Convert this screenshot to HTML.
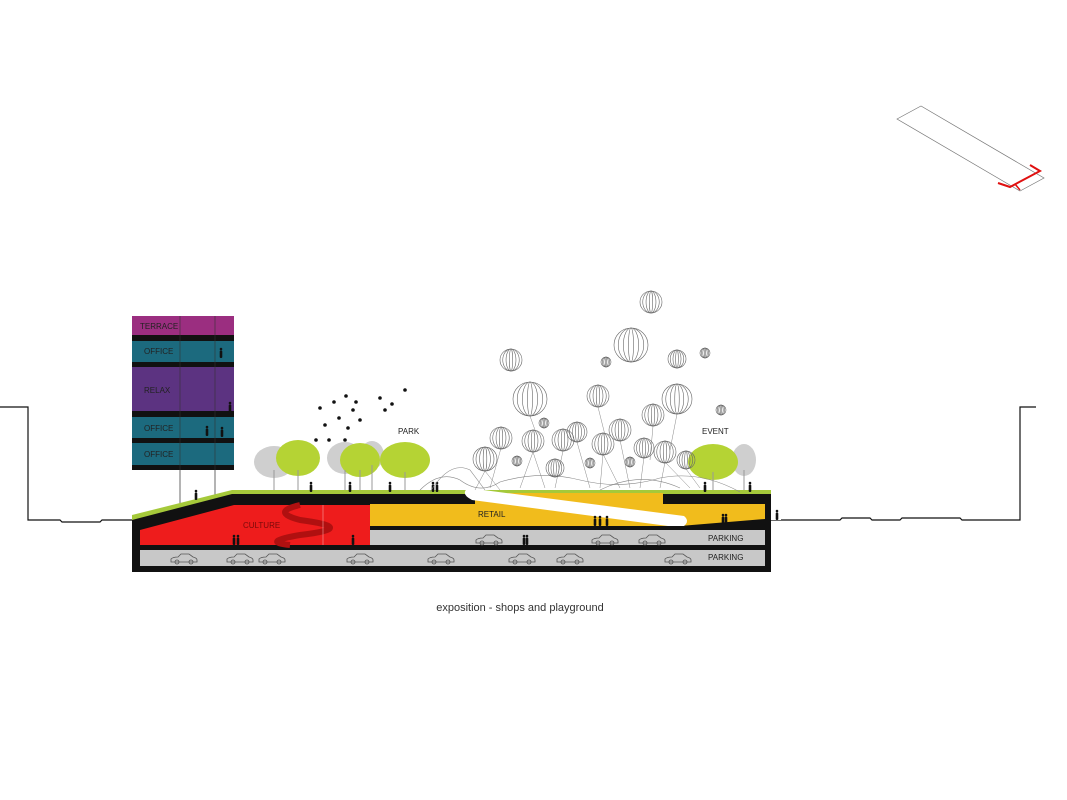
<!DOCTYPE html>
<html><head><meta charset="utf-8"><style>
html,body{margin:0;padding:0;background:#fff}
svg{display:block}
text{font-family:"Liberation Sans",sans-serif}
</style></head><body>
<svg width="1067" height="800" viewBox="0 0 1067 800" xmlns="http://www.w3.org/2000/svg">
<defs>
<g id="b" fill="none" stroke="#666" stroke-width="0.6">
<circle r="1" vector-effect="non-scaling-stroke"/><ellipse rx="0.75" ry="1" vector-effect="non-scaling-stroke"/><ellipse rx="0.45" ry="1" vector-effect="non-scaling-stroke"/><ellipse rx="0.15" ry="1" vector-effect="non-scaling-stroke"/>
</g>
<g id="car" fill="none" stroke="#555" stroke-width="0.8">
<path d="M-13,3 L-13,0 Q-11,-2 -6,-2 L-3,-5 L5,-5 L9,-2 Q13,-1 13,1 L13,3 Z"/>
<circle cx="-7" cy="3" r="2"/><circle cx="7" cy="3" r="2"/>
</g>
<g id="p" fill="#111"><circle cx="0" cy="-9" r="1.3"/><rect x="-1.3" y="-7.5" width="2.6" height="7.5" rx="1"/></g>
</defs>

<polygon points="897,119 921,106 1044,178 1020,191" fill="none" stroke="#777" stroke-width="0.7"/>
<polyline points="1030,165 1040,171 1010,187 998,183" fill="none" stroke="#e01010" stroke-width="2"/>
<line x1="1015" y1="184" x2="1020" y2="190" stroke="#e01010" stroke-width="1.5"/>

<polyline points="0,407 28,407 28,520 60,520 62,522 100,522 102,520 132,520" fill="none" stroke="#111" stroke-width="1.2"/>
<polyline points="771,520 840,520 842,518 870,518 872,520 900,520 902,518 960,518 962,520 1020,520 1020,407 1036,407" fill="none" stroke="#111" stroke-width="1.2"/>

<line x1="180" y1="470" x2="180" y2="545" stroke="#444" stroke-width="0.8"/>
<line x1="215" y1="470" x2="215" y2="545" stroke="#444" stroke-width="0.8"/>

<rect x="132" y="316" width="102" height="19" fill="#9b2e80"/>
<rect x="132" y="335" width="102" height="6" fill="#111"/>
<rect x="132" y="341" width="102" height="21" fill="#1c6a7e"/>
<rect x="132" y="362" width="102" height="5" fill="#111"/>
<rect x="132" y="367" width="102" height="44" fill="#5c3381"/>
<rect x="132" y="411" width="102" height="6" fill="#111"/>
<rect x="132" y="417" width="102" height="21" fill="#1c6a7e"/>
<rect x="132" y="438" width="102" height="5" fill="#111"/>
<rect x="132" y="443" width="102" height="22" fill="#1c6a7e"/>
<rect x="132" y="465" width="102" height="5" fill="#111"/>
<line x1="180" y1="316" x2="180" y2="470" stroke="#333" stroke-width="0.6"/>
<line x1="215" y1="316" x2="215" y2="470" stroke="#333" stroke-width="0.6"/>
<g font-size="8" fill="#222">
<text x="140" y="329">TERRACE</text>
<text x="144" y="354">OFFICE</text>
<text x="144" y="393">RELAX</text>
<text x="144" y="431">OFFICE</text>
<text x="144" y="457">OFFICE</text>
</g>
<use href="#p" x="221" y="358"/><use href="#p" x="230" y="412"/><use href="#p" x="207" y="436"/><use href="#p" x="222" y="437"/>

<polygon points="132,518 232,492 771,492 771,572 132,572" fill="#111"/>
<polygon points="132,515 232,490 771,490 771,494 232,494 132,520" fill="#a5c93a"/>
<polygon points="140,530 234,505 370,505 370,545 140,545" fill="#ee1c1c"/>
<path d="M300,505 Q270,512 300,520 Q360,528 300,535 Q260,542 290,545" fill="none" stroke="#b01010" stroke-width="6"/>
<line x1="323" y1="505" x2="323" y2="545" stroke="#f5a0a0" stroke-width="0.6"/>
<polygon points="370,504 765,504 765,519 680,526 370,526" fill="#f1bc1c"/>
<rect x="370" y="530" width="395" height="15" fill="#c8c8c8"/>
<rect x="140" y="550" width="625" height="16" fill="#c8c8c8"/>
<rect x="771" y="492" width="10" height="28" fill="#fff"/>
<rect x="475" y="490" width="188" height="3" fill="#a5c93a"/>
<rect x="475" y="493" width="188" height="11" fill="#f1bc1c"/>
<path d="M468,488 L684,516 Q690,521 684,526 L668,526 L472,500 Q460,494 468,488 Z" fill="#fff"/>
<g font-size="8" fill="#222">
<text x="243" y="528" fill="#7a0a0a">CULTURE</text>
<text x="478" y="517">RETAIL</text>
<text x="708" y="541">PARKING</text>
<text x="708" y="560">PARKING</text>
<text x="398" y="434">PARK</text>
<text x="702" y="434">EVENT</text>
</g>
<g>
<use href="#car" x="184" y="559"/><use href="#car" x="240" y="559"/><use href="#car" x="272" y="559"/><use href="#car" x="360" y="559"/><use href="#car" x="441" y="559"/><use href="#car" x="522" y="559"/><use href="#car" x="570" y="559"/><use href="#car" x="678" y="559"/>
<use href="#car" x="489" y="540"/><use href="#car" x="605" y="540"/><use href="#car" x="652" y="540"/>
</g>
<use href="#p" x="234" y="545"/><use href="#p" x="238" y="545"/><use href="#p" x="353" y="545"/><use href="#p" x="524" y="545"/><use href="#p" x="527" y="545"/>
<use href="#p" x="595" y="526"/><use href="#p" x="600" y="526"/><use href="#p" x="607" y="526"/><use href="#p" x="723" y="524"/><use href="#p" x="726" y="524"/><use href="#p" x="777" y="520"/>
<use href="#p" x="196" y="500"/><use href="#p" x="311" y="492"/><use href="#p" x="350" y="492"/><use href="#p" x="390" y="492"/><use href="#p" x="433" y="492"/><use href="#p" x="437" y="492"/><use href="#p" x="705" y="492"/><use href="#p" x="750" y="492"/>

<g fill="#cfcfcf">
<ellipse cx="274" cy="462" rx="20" ry="16"/><ellipse cx="345" cy="458" rx="18" ry="16"/><ellipse cx="372" cy="455" rx="12" ry="14"/><ellipse cx="744" cy="460" rx="12" ry="16"/>
</g>
<g fill="#b5d334">
<ellipse cx="298" cy="458" rx="22" ry="18"/><ellipse cx="360" cy="460" rx="20" ry="17"/><ellipse cx="405" cy="460" rx="25" ry="18"/><ellipse cx="713" cy="462" rx="25" ry="18"/>
</g>
<g stroke="#999" stroke-width="1">
<line x1="274" y1="470" x2="274" y2="490"/><line x1="298" y1="470" x2="298" y2="490"/><line x1="345" y1="470" x2="345" y2="490"/><line x1="372" y1="465" x2="372" y2="490"/><line x1="360" y1="470" x2="360" y2="490"/><line x1="405" y1="472" x2="405" y2="490"/><line x1="713" y1="472" x2="713" y2="490"/><line x1="744" y1="470" x2="744" y2="490"/>
</g>
<g fill="#111">
<circle cx="320" cy="408" r="1.8"/><circle cx="334" cy="402" r="1.8"/><circle cx="346" cy="396" r="1.8"/><circle cx="339" cy="418" r="1.8"/><circle cx="353" cy="410" r="1.8"/><circle cx="325" cy="425" r="1.8"/><circle cx="348" cy="428" r="1.8"/><circle cx="360" cy="420" r="1.8"/><circle cx="329" cy="440" r="1.8"/><circle cx="345" cy="440" r="1.8"/><circle cx="380" cy="398" r="1.8"/><circle cx="392" cy="404" r="1.8"/><circle cx="405" cy="390" r="1.8"/><circle cx="385" cy="410" r="1.8"/><circle cx="316" cy="440" r="1.8"/><circle cx="356" cy="402" r="1.8"/>
</g>

<path d="M420,490 Q440,470 460,480 Q480,495 500,482 Q540,470 580,480 Q620,490 660,478 Q700,470 740,492" fill="none" stroke="#888" stroke-width="0.6"/>
<path d="M430,492 Q450,460 470,470 L485,490 M600,490 Q640,470 680,488" fill="none" stroke="#888" stroke-width="0.6"/>
<g stroke="#888" stroke-width="0.5" fill="none">
<path d="M485,471 L475,490 M485,471 L500,490 M501,448 L490,488 M533,452 L520,488 M533,452 L545,488 M563,451 L555,488 M577,442 L590,488 M603,454 L600,488 M603,454 L620,488 M620,440 L630,488 M644,457 L640,488 M665,462 L660,488 M665,462 L690,488 M686,469 L700,488 M653,426 L650,460 M677,414 L670,450 M598,407 L605,435 M530,416 L535,430"/>
</g>
<g>
<use href="#b" transform="translate(651,302) scale(11)"/>
<use href="#b" transform="translate(631,345) scale(17)"/>
<use href="#b" transform="translate(511,360) scale(11)"/>
<use href="#b" transform="translate(606,362) scale(5)"/>
<use href="#b" transform="translate(677,359) scale(9)"/>
<use href="#b" transform="translate(705,353) scale(5)"/>
<use href="#b" transform="translate(530,399) scale(17)"/>
<use href="#b" transform="translate(598,396) scale(11)"/>
<use href="#b" transform="translate(677,399) scale(15)"/>
<use href="#b" transform="translate(721,410) scale(5)"/>
<use href="#b" transform="translate(653,415) scale(11)"/>
<use href="#b" transform="translate(544,423) scale(5)"/>
<use href="#b" transform="translate(620,430) scale(11)"/>
<use href="#b" transform="translate(501,438) scale(11)"/>
<use href="#b" transform="translate(533,441) scale(11)"/>
<use href="#b" transform="translate(563,440) scale(11)"/>
<use href="#b" transform="translate(577,432) scale(10)"/>
<use href="#b" transform="translate(603,444) scale(11)"/>
<use href="#b" transform="translate(644,448) scale(10)"/>
<use href="#b" transform="translate(665,452) scale(11)"/>
<use href="#b" transform="translate(517,461) scale(5)"/>
<use href="#b" transform="translate(555,468) scale(9)"/>
<use href="#b" transform="translate(590,463) scale(5)"/>
<use href="#b" transform="translate(630,462) scale(5)"/>
<use href="#b" transform="translate(686,460) scale(9)"/>
<use href="#b" transform="translate(485,459) scale(12)"/>
</g>

<text x="520" y="611" font-size="11" fill="#333" text-anchor="middle">exposition - shops and playground</text>
</svg>
</body></html>
